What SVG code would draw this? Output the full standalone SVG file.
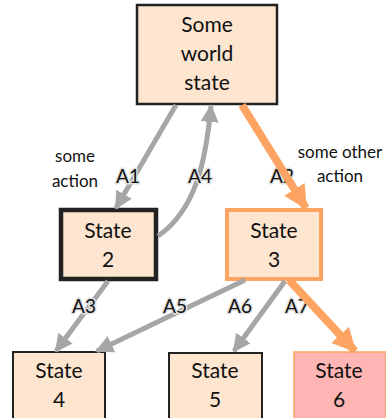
<svg xmlns="http://www.w3.org/2000/svg" width="386" height="418" viewBox="0 0 386 418">
  <style>
    .box { fill: #FDE5CF; stroke: #222; stroke-width: 2.5; }
    .lbl { font-family: Lato, "Liberation Sans", sans-serif; font-size: 21px; fill: #111; text-anchor: middle; }
    .note { font-family: Lato, "Liberation Sans", sans-serif; font-size: 17px; fill: #111; text-anchor: middle; }
    .act { font-family: Lato, "Liberation Sans", sans-serif; font-size: 19px; fill: #111; text-anchor: middle;
           stroke: #e2e2e2; stroke-width: 3; paint-order: stroke; stroke-linejoin: round; }
    .gray { fill: none; stroke: #A6A6A6; stroke-width: 5; }
    .hot { fill: none; stroke: #FDA463; stroke-width: 8; }
  </style>
  <defs>
    <marker id="gh" markerUnits="userSpaceOnUse" viewBox="0 0 18 18" refX="16" refY="9" markerWidth="18" markerHeight="18" orient="auto">
      <path d="M0,0 L18,9 L0,18 Z" fill="#A6A6A6"/>
    </marker>
    <marker id="oh" markerUnits="userSpaceOnUse" viewBox="0 0 24 24" refX="22" refY="12" markerWidth="24" markerHeight="24" orient="auto">
      <path d="M0,0 L24,12 L0,24 Z" fill="#FDA463"/>
    </marker>
  </defs>

  <!-- nodes -->
  <g id="world">
    <rect class="box" x="137" y="5" width="140" height="99"/>
    <text class="lbl" x="207" y="32">Some</text>
    <text class="lbl" x="207" y="61">world</text>
    <text class="lbl" x="207" y="90">state</text>
  </g>
  <g id="state2">
    <rect class="box" x="61" y="210" width="95" height="69" style="stroke-width:4.5"/>
    <text class="lbl" x="108" y="238">State</text>
    <text class="lbl" x="108" y="267">2</text>
  </g>
  <g id="state3">
    <rect class="box" x="227" y="210" width="94" height="69" style="stroke:#FDA463;stroke-width:4"/>
    <text class="lbl" x="274" y="238">State</text>
    <text class="lbl" x="274" y="267">3</text>
  </g>
  <g id="state4">
    <rect class="box" x="13" y="352" width="92" height="70" style="stroke-width:2"/>
    <text class="lbl" x="59" y="378">State</text>
    <text class="lbl" x="59" y="407">4</text>
  </g>
  <g id="state5">
    <rect class="box" x="169" y="353" width="93" height="70" style="stroke-width:2"/>
    <text class="lbl" x="215" y="378">State</text>
    <text class="lbl" x="215" y="407">5</text>
  </g>
  <g id="state6">
    <rect class="box" x="294" y="352" width="92" height="70" style="fill:#FFB5B3;stroke:#FDA463;stroke-width:1.5"/>
    <text class="lbl" x="339" y="378">State</text>
    <text class="lbl" x="339" y="407">6</text>
  </g>

  <!-- side notes -->
  <text class="note" x="75" y="162">some</text>
  <text class="note" x="75" y="187">action</text>
  <text class="note" x="340" y="158">some other</text>
  <text class="note" x="340" y="182">action</text>

  <!-- connectors -->
  <g id="connectors">
    <path class="gray" d="M176,105 L116,208" marker-end="url(#gh)"/>
    <path class="gray" d="M158,236 C196,210 206,160 211,106" marker-end="url(#gh)"/>
    <path class="gray" d="M108,281 L56,351" marker-end="url(#gh)"/>
    <path class="gray" d="M245,280 L97,351" marker-end="url(#gh)"/>
    <path class="gray" d="M285,281 L234,351" marker-end="url(#gh)"/>

    <text class="act" x="128" y="183">A1</text>
    <text class="act" x="200" y="183">A4</text>
    <text class="act" x="282" y="183">A2</text>
    <text class="act" x="84" y="313">A3</text>
    <text class="act" x="175" y="313">A5</text>
    <text class="act" x="240" y="313">A6</text>
    <text class="act" x="297" y="313">A7</text>

    <path class="hot" d="M242,105 L306,208" marker-end="url(#oh)"/>
    <path class="hot" d="M289,280 L355,351" marker-end="url(#oh)"/>
  </g>
</svg>
